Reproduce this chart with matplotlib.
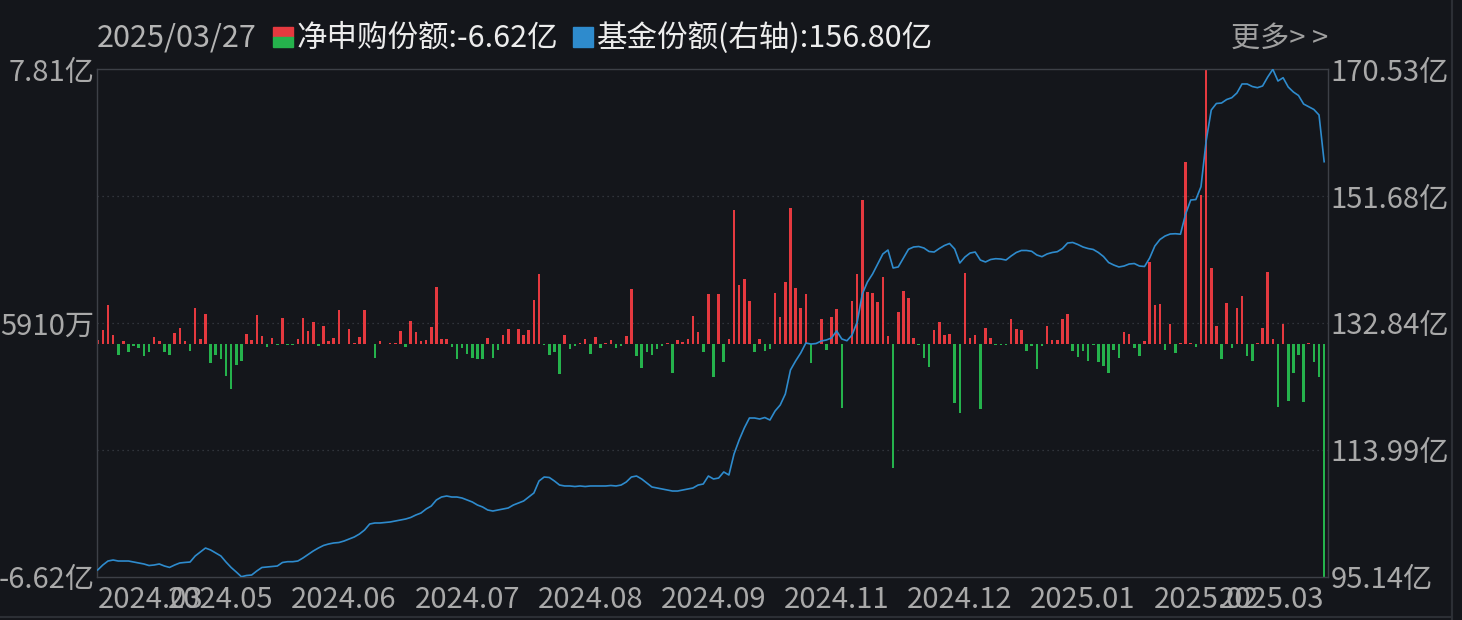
import matplotlib
matplotlib.use("Agg")
import matplotlib.pyplot as plt
from matplotlib.patches import Rectangle
from matplotlib.lines import Line2D

plt.rcParams['font.family'] = ['Noto Sans CJK SC', 'DejaVu Sans']

# 净申购份额 (亿), one bar per trading day
net_subscription = [
    0.11, 0.40, 1.11, 0.26, -0.31, 0.09, -0.22, -0.05, -0.11, -0.34,
    -0.23, 0.20, 0.07, -0.22, -0.31, 0.31, 0.46, 0.07, -0.20, 1.02,
    0.14, 0.85, -0.53, -0.31, -0.43, -0.90, -1.27, -0.60, -0.48, 0.28,
    0.12, 0.82, 0.23, -0.08, 0.17, -0.04, 0.74, -0.04, -0.04, 0.14,
    0.74, 0.37, 0.63, -0.05, 0.51, 0.07, 0.17, 0.97, 0.01, 0.43,
    0.04, 0.20, 0.97, 0.01, -0.39, 0.09, 0.01, 0.03, 0.04, 0.37,
    -0.08, 0.65, 0.34, 0.07, 0.12, 0.48, 1.62, 0.14, 0.14, -0.09,
    -0.42, -0.11, -0.28, -0.39, -0.42, -0.42, 0.17, -0.39, -0.16, 0.26,
    0.43,
    -0.01, 0.43, 0.26, 0.40, 1.24, 1.98, -0.03, -0.31, -0.23, -0.85,
    0.26, -0.14, -0.07, 0.03, 0.14, -0.28, 0.20, -0.11, 0.03, 0.11,
    -0.11, -0.07, 0.23, 1.56, -0.34, -0.68, -0.23, -0.31, -0.14, -0.07,
    0.03, -0.82, 0.11, 0.06, 0.14, 0.80, 0.34, -0.23, 1.42, -0.94,
    1.42, -0.51, 0.14, 3.80, 1.68, 1.85, 1.21, -0.23, 0.14, -0.20,
    -0.14, 1.45, 0.77, 1.75, 3.86, 1.58, 1.02, 1.41, -0.54, 0.01,
    0.71, -0.17, 0.77, 1.00, -1.82, 0.01, 1.22, 1.98, 4.09, 1.47,
    1.44, 1.19, 1.90, 0.22, -3.52, 0.90, 1.50, 1.31, 0.17, -0.02,
    -0.40, -0.65, 0.39, 0.61, 0.25, 0.28, -1.68, -1.96, 2.02, 0.16,
    0.25, -1.85, 0.45, 0.16, -0.03, -0.03, -0.03, 0.70, 0.42, 0.39,
    -0.20, -0.06, -0.71, -0.06, 0.50, 0.11, 0.11, 0.70, 0.84, -0.20,
    -0.37, -0.20, -0.48, -0.03, -0.51, -0.63, -0.82, -0.17, -0.40, 0.33,
    0.28, -0.12, -0.34, 0.08, 2.32, 1.10, 1.13, -0.17, 0.56, -0.26,
    0.02, 5.17, 0.02, -0.09, 4.23, 7.81, 2.15, 0.50, -0.43, 1.16,
    -0.11, 1.02, 1.36, -0.34, -0.48, 0.03, 0.45, 2.04, 0.13, -1.79,
    0.58, -1.62, -0.82, -0.31, -1.65, 0.02, -0.51, -0.94, -6.62,
]

# 基金份额 (亿), right axis
fund_shares = [
    96.14, 96.88, 97.47, 97.62, 97.47, 97.47, 97.47, 97.32, 97.18, 97.03,
    96.80, 96.88, 97.03, 96.73, 96.52, 96.88, 97.18, 97.26, 97.32, 98.22,
    98.81, 99.40, 99.11, 98.66, 98.22, 97.32, 96.51, 95.84, 95.14, 95.32,
    95.39, 95.99, 96.51, 96.58, 96.66, 96.73, 97.25, 97.37, 97.37, 97.47,
    97.92, 98.44, 98.96, 99.40, 99.78, 100.00, 100.15, 100.22, 100.44, 100.74,
    101.04, 101.48, 102.08, 102.97, 103.12, 103.12, 103.19, 103.27, 103.42, 103.56,
    103.71, 103.94, 104.31, 104.60, 105.20, 105.64, 106.54, 106.98, 107.13, 106.98,
    106.98, 106.83, 106.54, 106.24, 105.79, 105.50, 105.05, 104.90, 105.05, 105.20,
    105.35, 105.79, 106.09, 106.39, 106.98, 107.58, 109.36, 109.95, 109.88, 109.36,
    108.76, 108.62, 108.62, 108.54, 108.62, 108.54, 108.62, 108.62, 108.62, 108.62,
    108.69, 108.62, 108.76, 109.21, 109.95, 110.10, 109.66, 109.06, 108.47, 108.32,
    108.17, 108.02, 107.87, 107.87, 108.02, 108.17, 108.32, 108.76, 108.91, 110.10,
    109.66, 109.80, 110.70, 110.25, 113.37, 115.45, 117.23, 118.72, 118.72, 118.57,
    118.79, 118.42, 119.76, 120.65, 122.29, 125.85, 127.19, 128.38, 129.86, 129.71,
    129.79, 130.16, 130.31, 130.61, 131.65, 130.46, 130.20, 131.05, 132.98, 137.14,
    138.93, 140.12, 141.60, 143.09, 143.68, 141.01, 141.16, 142.49, 143.79, 144.13,
    144.20, 143.98, 143.46, 143.38, 143.90, 144.35, 144.65, 143.83, 141.75, 142.64,
    143.23, 143.38, 142.19, 141.90, 142.27, 142.39, 142.34, 142.19, 142.79, 143.31,
    143.61, 143.61, 143.49, 142.94, 142.69, 143.09, 143.31, 143.43, 143.90, 144.72,
    144.80, 144.50, 144.13, 143.90, 143.76, 143.31, 142.71, 141.82, 141.45, 141.16,
    141.30, 141.60, 141.67, 141.30, 141.23, 142.49, 144.27, 145.24, 145.76, 146.06,
    146.10, 146.03, 149.03, 151.11, 151.18, 153.09, 159.87, 164.48, 165.45, 165.52,
    166.04, 166.31, 167.01, 168.35, 168.35, 167.97, 167.80, 168.05, 169.38, 170.53,
    168.79, 169.28, 167.90, 167.16, 166.64, 165.37, 164.97, 164.56, 163.74, 156.80,
]

month_tick_pos = [0, 24, 48, 72, 96, 120, 144, 168, 192, 216, 239]
month_labels = ['2024.03', '2024.05', '2024.06', '2024.07', '2024.08', '2024.09',
                '2024.11', '2024.12', '2025.01', '2025.02', '2025.03']

left_ticks = [-6.62, 0.591, 7.81]
left_labels = ['-6.62亿', '5910万', '7.81亿']
right_ticks = [95.14, 113.99, 132.84, 151.68, 170.53]
right_labels = ['95.14亿', '113.99亿', '132.84亿', '151.68亿', '170.53亿']

BG = '#14161b'
RED = '#e5393f'
GREEN = '#25b24c'
BLUE = '#2e8bcd'
GRID = '#3a3e46'
TXT = '#a9a9a9'

W, H = 1462, 620
fig = plt.figure(figsize=(W / 100, H / 100), dpi=100, facecolor=BG)

ax = fig.add_axes([97.3 / W, (H - 576.7) / H, (1328 - 97.3) / W, 507.4 / H])
ax.set_facecolor(BG)

x = list(range(len(net_subscription)))
colors = [RED if v >= 0 else GREEN for v in net_subscription]
ax.bar(x, net_subscription, width=0.5, color=colors, linewidth=0, zorder=2)

ax.set_xlim(-0.08, 239.75)
ax.set_ylim(-6.62, 7.81)

lo, hi = -6.62, 7.81
for frac in (0.25, 0.5, 0.75):
    ax.axhline(lo + (hi - lo) * frac, color=GRID, lw=0.9, ls=(0, (1, 3)), zorder=1)

ax.set_yticks(left_ticks, left_labels)
ax.set_xticks(month_tick_pos, month_labels)
ax.tick_params(axis='both', length=0, colors=TXT, labelsize=21)
ax.tick_params(axis='y', pad=2)
ax.tick_params(axis='x', pad=6)
xt = ax.get_xticklabels()
xt[0].set_ha('left')
xt[-1].set_ha('right')

for s in ax.spines.values():
    s.set_color('#3d4047')
    s.set_linewidth(1)

ax2 = ax.twinx()
ax2.plot(x, fund_shares, color=BLUE, lw=1.2, zorder=3)
ax2.set_ylim(95.14, 170.53)
ax2.set_yticks(right_ticks, right_labels)
ax2.tick_params(axis='y', length=0, colors=TXT, labelsize=21, pad=2)
for s in ax2.spines.values():
    s.set_visible(False)

# header
ty = 1 - 38 / H
fig.text(97 / W, ty, '2025/03/27', color='#b4b4b4', fontsize=22, va='center', ha='left')
fig.patches.append(Rectangle((273 / W, 1 - 37 / H), 20 / W, 10 / H, transform=fig.transFigure,
                             color=RED, figure=fig))
fig.patches.append(Rectangle((273 / W, 1 - 47 / H), 20 / W, 10 / H, transform=fig.transFigure,
                             color=GREEN, figure=fig))
fig.text(297 / W, ty, '净申购份额:-6.62亿', color='#ececec', fontsize=22, va='center', ha='left')
fig.patches.append(Rectangle((573 / W, 1 - 47 / H), 20 / W, 20 / H, transform=fig.transFigure,
                             color=BLUE, figure=fig))
fig.text(597 / W, ty, '基金份额(右轴):156.80亿', color='#ececec', fontsize=22, va='center', ha='left')
fig.text(1328 / W, 1 - 39 / H, '更多> >', color='#a0a0a0', fontsize=21, va='center', ha='right')

# window chrome on the right edge and bottom
fig.lines.append(Line2D([1452 / W, 1452 / W], [0, 1], transform=fig.transFigure,
                        color='#2c2f35', lw=1.5))
fig.lines.append(Line2D([0, 1452 / W], [1 - 617 / H, 1 - 617 / H], transform=fig.transFigure,
                        color='#2c2f35', lw=1.5))

fig.savefig('out.png', dpi=100, facecolor=BG)
